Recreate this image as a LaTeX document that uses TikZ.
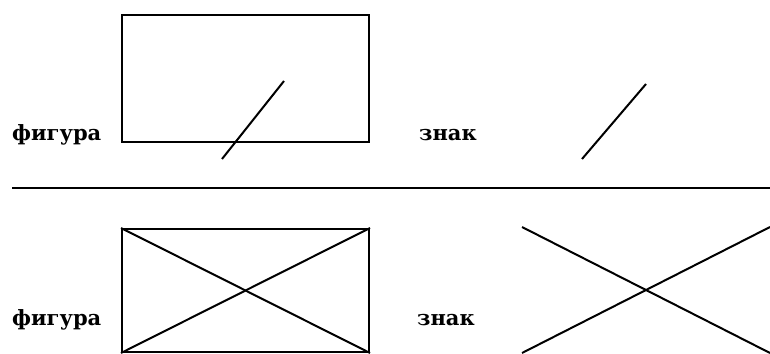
\documentclass[tikz,border=0pt]{standalone}
\usepackage{fontspec}
\setmainfont{DejaVu Serif}
\begin{document}
\begin{tikzpicture}[x=1pt,y=-1pt,
  ln/.style={line width=2pt},
  box/.style={draw,line width=2pt,inner sep=0pt,anchor=north west},
  lbl/.style={anchor=base west,inner sep=0pt,font=\fontsize{21}{25}\selectfont\bfseries}]
\useasboundingbox (0,0) rectangle (770,353);
% top row
\node[box,minimum width=247pt,minimum height=127pt] (r1) at (121,14) {};
\node[lbl] (f1) at (12,140) {фигура};
\node[lbl] (z1) at (419,140) {знак};
\coordinate (s1a) at (222,159);
\coordinate (s1b) at (284,81);
\draw[ln] (s1a) -- (s1b);
\coordinate (s2a) at (582,159);
\coordinate (s2b) at (646,84);
\draw[ln] (s2a) -- (s2b);
% separator
\coordinate (h1) at (12,188);
\coordinate (h2) at (770,188);
\draw[ln] (h1) -- (h2);
% bottom row
\node[box,minimum width=247pt,minimum height=123pt] (r2) at (121,228) {};
\draw[ln] (r2.north west) -- (r2.south east);
\draw[ln] (r2.south west) -- (r2.north east);
\node[lbl] (f2) at (12,325) {фигура};
\node[lbl] (z2) at (417,325) {знак};
\coordinate (x1) at (522,227);
\coordinate (x2) at (770,353);
\coordinate (x3) at (522,353);
\coordinate (x4) at (770,227);
\draw[ln] (x1) -- (x2);
\draw[ln] (x3) -- (x4);
\end{tikzpicture}
\end{document}
